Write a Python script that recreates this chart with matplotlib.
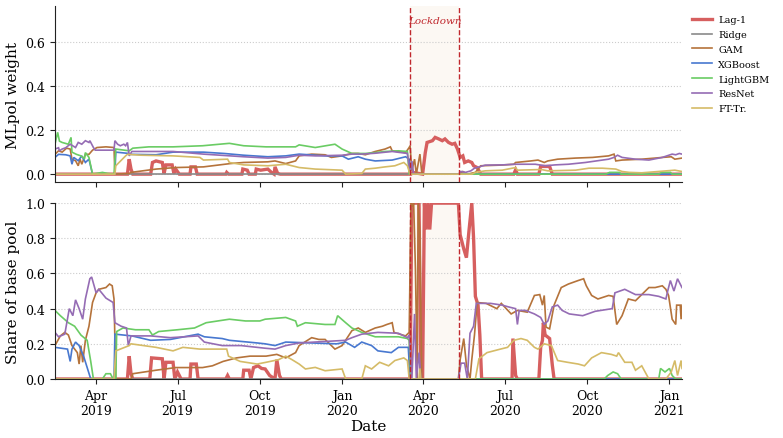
import numpy as np
import pandas as pd
import matplotlib
matplotlib.use('Agg')
import matplotlib.pyplot as plt
import matplotlib.dates as mdates

plt.rcParams['font.family'] = 'DejaVu Serif'

# ---------------- data: MLpol weight (top panel) ----------------
top_lag1_dates = ['2019-02-14', '2019-05-06', '2019-05-08', '2019-05-10', '2019-05-12', '2019-06-01',
                  '2019-06-03', '2019-06-07', '2019-06-14', '2019-06-16', '2019-06-18', '2019-06-25',
                  '2019-06-27', '2019-06-29', '2019-07-03', '2019-07-15', '2019-07-16', '2019-07-21',
                  '2019-07-23', '2019-08-24', '2019-08-25', '2019-08-27', '2019-09-11', '2019-09-12',
                  '2019-09-17', '2019-09-19', '2019-09-26', '2019-09-27', '2019-10-02', '2019-10-10',
                  '2019-10-14', '2019-10-17', '2019-10-18', '2019-10-21', '2019-10-24', '2020-03-18',
                  '2020-03-20', '2020-03-31', '2020-04-03', '2020-04-05', '2020-04-11', '2020-04-14',
                  '2020-04-18', '2020-04-22', '2020-04-25', '2020-04-29', '2020-05-03', '2020-05-06',
                  '2020-05-09', '2020-05-12', '2020-05-15', '2020-05-17', '2020-05-21', '2020-05-25',
                  '2020-05-27', '2020-05-31', '2020-06-04', '2020-07-11', '2020-07-13', '2020-07-15',
                  '2020-08-08', '2020-08-10', '2020-08-20', '2020-08-23', '2021-01-15']
top_lag1 = [0, 0, 0.068, 0.023, 0, 0,
            0.053, 0.06, 0.053, 0.003, 0.042, 0.042,
            0.003, 0.023, 0, 0, 0.033, 0.033,
            0, 0, 0.008, 0, 0, 0.023,
            0.018, 0, 0, 0.023, 0.018, 0.023,
            0.008, 0, 0.033, 0.003, 0, 0,
            0.008, 0, 0.098, 0.144, 0.152, 0.167,
            0.16, 0.152, 0.16, 0.144, 0.136, 0.14,
            0.114, 0.076, 0.083, 0.053, 0.06, 0.053,
            0.038, 0.03, 0, 0, 0.02, 0,
            0, 0.035, 0.035, 0, 0]

top_gam_dates = ['2019-02-14', '2019-02-18', '2019-02-22', '2019-02-27', '2019-03-03', '2019-03-05',
                 '2019-03-09', '2019-03-12', '2019-03-14', '2019-03-16', '2019-03-20', '2019-03-24',
                 '2019-03-28', '2019-04-02', '2019-04-12', '2019-04-21', '2019-04-22', '2019-05-08',
                 '2019-05-10', '2019-06-07', '2019-06-29', '2019-07-30', '2019-08-29', '2019-09-13',
                 '2019-10-10', '2019-10-18', '2019-10-30', '2019-11-10', '2019-11-14', '2019-11-28',
                 '2019-12-13', '2019-12-20', '2020-01-01', '2020-01-12', '2020-01-19', '2020-01-27',
                 '2020-02-07', '2020-02-18', '2020-02-24', '2020-02-26', '2020-03-12', '2020-03-16',
                 '2020-03-17', '2020-03-19', '2020-03-22', '2020-03-24', '2020-03-28', '2020-03-30',
                 '2020-04-02', '2020-05-12', '2020-05-15', '2020-05-20', '2020-05-29', '2020-06-04',
                 '2020-06-26', '2020-07-11', '2020-07-13', '2020-07-30', '2020-08-07', '2020-08-14',
                 '2020-08-18', '2020-08-29', '2020-09-18', '2020-10-07', '2020-10-25', '2020-10-31',
                 '2020-11-02', '2020-11-09', '2020-12-01', '2020-12-16', '2020-12-24', '2021-01-03',
                 '2021-01-07', '2021-01-15']
top_gam = [0.09, 0.106, 0.10, 0.118, 0.114, 0.068,
           0.061, 0.038, 0.068, 0.045, 0.09, 0.09,
           0.109, 0.121, 0.124, 0.121, 0.0, 0.003,
           0.008, 0.023, 0.03, 0.033, 0.048, 0.053,
           0.056, 0.06, 0.048, 0.06, 0.083, 0.091,
           0.088, 0.076, 0.083, 0.094, 0.094, 0.088,
           0.103, 0.114, 0.124, 0.106, 0.098, 0.121,
           0.129, 0.015, 0.068, 0.0, 0.091, 0.008,
           0.0, 0.0, 0.012, 0.0, 0.008, 0.038,
           0.041, 0.045, 0.053, 0.06, 0.064, 0.053,
           0.06, 0.068, 0.073, 0.076, 0.083, 0.091,
           0.06, 0.064, 0.068, 0.073, 0.076, 0.079,
           0.068, 0.073]

top_xgb_dates = ['2019-02-14', '2019-02-18', '2019-02-26', '2019-03-03', '2019-03-05', '2019-03-07',
                 '2019-03-12', '2019-03-16', '2019-03-20', '2019-03-24', '2019-03-28', '2019-04-22',
                 '2019-04-23', '2019-05-08', '2019-05-10', '2019-06-07', '2019-06-26', '2019-07-30',
                 '2019-08-22', '2019-09-13', '2019-10-10', '2019-10-30', '2019-11-14', '2019-12-13',
                 '2020-01-01', '2020-01-08', '2020-01-19', '2020-01-27', '2020-02-07', '2020-02-26',
                 '2020-03-12', '2020-03-16', '2020-03-17', '2021-01-15']
top_xgb = [0.076, 0.09, 0.088, 0.083, 0.045, 0.076,
           0.061, 0.083, 0.053, 0.068, 0.0, 0.0,
           0.10, 0.094, 0.09, 0.088, 0.10, 0.10,
           0.094, 0.086, 0.079, 0.083, 0.091, 0.083,
           0.083, 0.068, 0.079, 0.068, 0.06, 0.064,
           0.079, 0.068, 0.0, 0.0]

top_lgbm_dates = ['2019-02-14', '2019-02-17', '2019-02-19', '2019-02-22', '2019-03-01', '2019-03-04',
                  '2019-03-05', '2019-03-10', '2019-03-15', '2019-03-19', '2019-03-20', '2019-03-24',
                  '2019-03-28', '2019-04-08', '2019-04-14', '2019-04-21', '2019-04-23', '2019-05-08',
                  '2019-05-12', '2019-05-30', '2019-06-26', '2019-07-29', '2019-08-28', '2019-09-13',
                  '2019-10-08', '2019-11-10', '2019-11-14', '2019-12-02', '2019-12-24', '2020-01-01',
                  '2020-01-12', '2020-01-27', '2020-02-07', '2020-02-18', '2020-03-04', '2020-03-14',
                  '2020-03-16', '2020-10-22', '2020-10-26', '2020-11-06', '2020-11-08', '2020-12-20',
                  '2020-12-23', '2021-01-02', '2021-01-04', '2021-01-15']
top_lgbm = [0.136, 0.19, 0.15, 0.144, 0.136, 0.167,
            0.10, 0.09, 0.083, 0.07, 0.098, 0.076,
            0.0, 0.008, 0.003, 0.0, 0.114, 0.106,
            0.118, 0.124, 0.124, 0.129, 0.14, 0.129,
            0.124, 0.124, 0.133, 0.121, 0.136, 0.114,
            0.094, 0.094, 0.098, 0.103, 0.106, 0.103,
            0.0, 0.0, 0.008, 0.008, 0.0, 0.0,
            0.008, 0.008, 0.0, 0.0]

top_resnet_dates = ['2019-02-14', '2019-02-18', '2019-02-19', '2019-02-22', '2019-02-26', '2019-03-03',
                    '2019-03-09', '2019-03-12', '2019-03-16', '2019-03-20', '2019-03-24', '2019-03-25',
                    '2019-03-29', '2019-03-31', '2019-04-21', '2019-04-22', '2019-04-25', '2019-04-28',
                    '2019-05-02', '2019-05-04', '2019-05-06', '2019-05-08', '2019-05-11', '2019-05-30',
                    '2019-06-26', '2019-07-30', '2019-08-29', '2019-09-13', '2019-10-10', '2019-10-30',
                    '2019-11-14', '2019-12-02', '2020-01-01', '2020-01-12', '2020-01-23', '2020-02-07',
                    '2020-02-26', '2020-03-14', '2020-03-17', '2020-03-19', '2020-03-21', '2020-05-10',
                    '2020-05-13', '2020-05-18', '2020-05-24', '2020-05-28', '2020-06-09', '2020-06-28',
                    '2020-07-13', '2020-08-04', '2020-08-15', '2020-08-26', '2020-09-10', '2020-09-29',
                    '2020-10-25', '2020-10-31', '2020-11-04', '2020-11-09', '2020-11-24', '2020-12-09',
                    '2020-12-24', '2021-01-04', '2021-01-08', '2021-01-12', '2021-01-15']
top_resnet = [0.114, 0.12, 0.106, 0.114, 0.12, 0.136,
              0.121, 0.144, 0.136, 0.152, 0.144, 0.152,
              0.121, 0.109, 0.109, 0.152, 0.136, 0.129,
              0.136, 0.129, 0.144, 0.083, 0.103, 0.103,
              0.103, 0.091, 0.083, 0.079, 0.073, 0.076,
              0.086, 0.083, 0.086, 0.091, 0.091, 0.095,
              0.103, 0.094, 0.0, 0.06, 0.0, 0.0,
              0.012, 0.008, 0.015, 0.027, 0.041, 0.042,
              0.045, 0.045, 0.038, 0.042, 0.045, 0.053,
              0.068, 0.076, 0.086, 0.076, 0.068, 0.064,
              0.076, 0.091, 0.088, 0.094, 0.091]

top_fttr_dates = ['2019-02-14', '2019-04-22', '2019-04-23', '2019-05-04', '2019-05-06', '2019-05-22',
                  '2019-06-26', '2019-07-26', '2019-07-30', '2019-08-26', '2019-08-28', '2019-09-13',
                  '2019-10-10', '2019-10-30', '2019-11-14', '2019-12-02', '2020-01-01', '2020-01-05',
                  '2020-01-23', '2020-01-27', '2020-02-07', '2020-02-18', '2020-02-29', '2020-03-10',
                  '2020-03-14', '2020-03-17', '2020-05-25', '2020-05-29', '2020-06-09', '2020-06-28',
                  '2020-07-13', '2020-07-15', '2020-08-11', '2020-08-18', '2020-09-18', '2020-10-03',
                  '2020-10-18', '2020-11-02', '2020-11-09', '2020-11-17', '2020-12-01', '2021-01-07',
                  '2021-01-15']
top_fttr = [0.0, 0.0, 0.038, 0.083, 0.09, 0.086,
            0.083, 0.076, 0.064, 0.068, 0.053, 0.042,
            0.038, 0.045, 0.03, 0.023, 0.018, 0.0,
            0.003, 0.023, 0.027, 0.033, 0.038, 0.053,
            0.038, 0.0, 0.0, 0.008, 0.015, 0.018,
            0.03, 0.018, 0.021, 0.015, 0.018, 0.027,
            0.027, 0.023, 0.012, 0.008, 0.006, 0.018,
            0.012]

ridge_dates = ['2019-02-14', '2021-01-15']
ridge = [0.0, 0.0]

# ---------------- data: share of base pool (bottom panel) ----------------
bot_lag1_dates = ['2019-02-14', '2019-05-06', '2019-05-08', '2019-05-10', '2019-05-12', '2019-05-31',
                  '2019-06-02', '2019-06-14', '2019-06-16', '2019-06-18', '2019-06-26', '2019-06-28',
                  '2019-07-01', '2019-07-05', '2019-07-15', '2019-07-16', '2019-07-22', '2019-07-24',
                  '2019-08-24', '2019-08-26', '2019-08-28', '2019-09-12', '2019-09-13', '2019-09-19',
                  '2019-09-21', '2019-09-24', '2019-09-29', '2019-10-03', '2019-10-07', '2019-10-12',
                  '2019-10-18', '2019-10-20', '2019-10-23', '2019-10-25', '2020-03-17', '2020-03-19',
                  '2020-03-27', '2020-03-29', '2020-03-31', '2020-04-02', '2020-04-04', '2020-04-06',
                  '2020-04-08', '2020-04-10', '2020-05-10', '2020-05-12', '2020-05-16', '2020-05-19',
                  '2020-05-22', '2020-05-25', '2020-05-27', '2020-05-29', '2020-06-01', '2020-06-03',
                  '2020-06-05', '2020-07-09', '2020-07-10', '2020-07-13', '2020-07-15', '2020-08-08',
                  '2020-08-10', '2020-08-12', '2020-08-13', '2020-08-15', '2020-08-20', '2020-08-23',
                  '2020-08-25', '2021-01-15']
bot_lag1 = [0, 0, 0.13, 0.03, 0, 0,
            0.12, 0.115, 0, 0.095, 0.095, 0,
            0.04, 0, 0, 0.085, 0.085, 0,
            0, 0.02, 0, 0, 0.05, 0.05,
            0, 0.065, 0.075, 0.06, 0.057, 0.02,
            0, 0.11, 0.02, 0, 0, 1.0,
            1.0, 0.0, 0.0, 1.0, 0.85, 1.0,
            0.85, 1.0, 1.0, 0.82, 0.74, 0.69,
            0.85, 1.0, 0.80, 0.47, 0.42, 0.25,
            0, 0, 0.23, 0.02, 0, 0,
            0.18, 0.22, 0.32, 0.25, 0.23, 0.08,
            0, 0]

bot_gam_dates = ['2019-02-14', '2019-02-20', '2019-02-25', '2019-03-01', '2019-03-05', '2019-03-11',
                 '2019-03-13', '2019-03-15', '2019-03-17', '2019-03-20', '2019-03-24', '2019-03-28',
                 '2019-04-01', '2019-04-04', '2019-04-12', '2019-04-16', '2019-04-19', '2019-04-21',
                 '2019-04-23', '2019-05-10', '2019-05-12', '2019-06-07', '2019-06-29', '2019-07-29',
                 '2019-08-09', '2019-08-21', '2019-09-05', '2019-09-20', '2019-10-08', '2019-10-20',
                 '2019-10-30', '2019-11-10', '2019-11-14', '2019-11-28', '2019-12-06', '2019-12-13',
                 '2019-12-24', '2020-01-01', '2020-01-12', '2020-01-19', '2020-01-27', '2020-02-07',
                 '2020-02-15', '2020-02-20', '2020-02-26', '2020-02-28', '2020-03-12', '2020-03-16',
                 '2020-03-18', '2020-03-20', '2020-03-21', '2020-03-23', '2020-03-25', '2020-03-26',
                 '2020-03-28', '2020-03-30', '2020-05-10', '2020-05-12', '2020-05-16', '2020-05-19',
                 '2020-05-23', '2020-05-25', '2020-05-28', '2020-05-31', '2020-06-10', '2020-06-22',
                 '2020-06-27', '2020-07-08', '2020-07-15', '2020-07-26', '2020-08-03', '2020-08-09',
                 '2020-08-12', '2020-08-14', '2020-08-16', '2020-08-20', '2020-08-25', '2020-09-02',
                 '2020-09-10', '2020-09-21', '2020-09-27', '2020-09-30', '2020-10-06', '2020-10-13',
                 '2020-10-25', '2020-10-30', '2020-11-03', '2020-11-09', '2020-11-16', '2020-11-24',
                 '2020-12-01', '2020-12-09', '2020-12-16', '2020-12-24', '2020-12-28', '2020-12-31',
                 '2021-01-04', '2021-01-08', '2021-01-09', '2021-01-13', '2021-01-14', '2021-01-15']
bot_gam = [0.19, 0.245, 0.265, 0.25, 0.19, 0.15,
           0.085, 0.19, 0.095, 0.22, 0.30, 0.435,
           0.49, 0.51, 0.52, 0.54, 0.53, 0.455,
           0.0, 0.0, 0.03, 0.05, 0.065, 0.065,
           0.075, 0.10, 0.12, 0.13, 0.13, 0.14,
           0.12, 0.15, 0.19, 0.235, 0.225, 0.225,
           0.17, 0.19, 0.275, 0.29, 0.265, 0.29,
           0.30, 0.31, 0.32, 0.265, 0.245, 0.265,
           1.0, 0.98, 1.0, 0.625, 0.0, 1.0,
           0.83, 0.0, 0.0, 0.11, 0.23, 0.08,
           0.0, 0.11, 0.25, 0.435, 0.43, 0.40,
           0.43, 0.37, 0.39, 0.38, 0.475, 0.48,
           0.42, 0.475, 0.295, 0.285, 0.42, 0.52,
           0.54, 0.56, 0.57, 0.53, 0.475, 0.455,
           0.475, 0.47, 0.31, 0.36, 0.455, 0.445,
           0.48, 0.52, 0.52, 0.53, 0.51, 0.475,
           0.34, 0.31, 0.42, 0.42, 0.34, 0.42]

bot_xgb_dates = ['2019-02-14', '2019-02-28', '2019-03-03', '2019-03-05', '2019-03-09', '2019-03-13',
                 '2019-03-18', '2019-03-26', '2019-04-21', '2019-04-22', '2019-05-11', '2019-06-01',
                 '2019-06-23', '2019-07-24', '2019-07-31', '2019-08-20', '2019-08-28', '2019-09-28',
                 '2019-10-07', '2019-10-18', '2019-10-30', '2019-12-26', '2020-01-05', '2020-01-15',
                 '2020-01-23', '2020-02-03', '2020-02-10', '2020-02-25', '2020-03-04', '2020-03-15',
                 '2020-03-17', '2021-01-15']
bot_xgb = [0.18, 0.17, 0.10, 0.17, 0.21, 0.19,
           0.13, 0.0, 0.0, 0.255, 0.245, 0.22,
           0.225, 0.255, 0.24, 0.23, 0.22, 0.205,
           0.20, 0.19, 0.21, 0.20, 0.21, 0.18,
           0.21, 0.19, 0.16, 0.15, 0.18, 0.18,
           0.0, 0.0]

bot_lgbm_dates = ['2019-02-14', '2019-02-20', '2019-03-01', '2019-03-08', '2019-03-15', '2019-03-22',
                  '2019-03-26', '2019-03-29', '2019-04-08', '2019-04-12', '2019-04-17', '2019-04-20',
                  '2019-04-23', '2019-04-24', '2019-05-01', '2019-05-15', '2019-05-30', '2019-06-03',
                  '2019-06-10', '2019-07-01', '2019-07-20', '2019-08-02', '2019-08-28', '2019-09-15',
                  '2019-10-01', '2019-10-07', '2019-10-30', '2019-11-10', '2019-11-12', '2019-11-21',
                  '2019-12-13', '2019-12-24', '2019-12-27', '2020-01-05', '2020-01-12', '2020-01-23',
                  '2020-02-07', '2020-03-04', '2020-03-14', '2020-03-16', '2020-03-18', '2020-10-20',
                  '2020-10-24', '2020-10-30', '2020-11-04', '2020-11-08', '2020-12-20', '2020-12-22',
                  '2020-12-27', '2021-01-01', '2021-01-04', '2021-01-08', '2021-01-15']
bot_lgbm = [0.39, 0.36, 0.32, 0.30, 0.25, 0.22,
            0.10, 0.0, 0.0, 0.03, 0.03, 0.0,
            0.0, 0.27, 0.29, 0.28, 0.28, 0.25,
            0.27, 0.28, 0.29, 0.32, 0.34, 0.33,
            0.33, 0.34, 0.35, 0.33, 0.30, 0.32,
            0.31, 0.31, 0.36, 0.32, 0.29, 0.265,
            0.24, 0.24, 0.23, 0.22, 0.0, 0.0,
            0.02, 0.04, 0.03, 0.0, 0.0, 0.06,
            0.04, 0.06, 0.02, 0.0, 0.0]

bot_resnet_dates = ['2019-02-14', '2019-02-18', '2019-02-25', '2019-03-02', '2019-03-06', '2019-03-09',
                    '2019-03-13', '2019-03-17', '2019-03-20', '2019-03-25', '2019-03-27', '2019-04-01',
                    '2019-04-04', '2019-04-12', '2019-04-20', '2019-04-22', '2019-04-29', '2019-05-05',
                    '2019-05-07', '2019-05-10', '2019-06-01', '2019-06-23', '2019-07-24', '2019-07-31',
                    '2019-08-20', '2019-09-10', '2019-10-07', '2019-10-18', '2019-10-30', '2019-11-14',
                    '2020-01-05', '2020-01-12', '2020-01-23', '2020-02-10', '2020-03-04', '2020-03-14',
                    '2020-03-16', '2020-03-19', '2020-03-22', '2020-03-24', '2020-03-27', '2020-03-29',
                    '2020-05-10', '2020-05-13', '2020-05-17', '2020-05-20', '2020-05-23', '2020-05-27',
                    '2020-05-30', '2020-06-15', '2020-06-28', '2020-07-05', '2020-07-13', '2020-07-15',
                    '2020-07-17', '2020-07-24', '2020-08-03', '2020-08-10', '2020-08-14', '2020-08-18',
                    '2020-08-23', '2020-08-29', '2020-09-03', '2020-09-11', '2020-09-26', '2020-10-10',
                    '2020-10-29', '2020-11-01', '2020-11-12', '2020-11-24', '2020-12-09', '2020-12-20',
                    '2020-12-28', '2020-12-30', '2021-01-02', '2021-01-06', '2021-01-10', '2021-01-15']
bot_resnet = [0.265, 0.24, 0.255, 0.40, 0.36, 0.45,
              0.40, 0.34, 0.455, 0.57, 0.58, 0.49,
              0.51, 0.46, 0.435, 0.32, 0.30, 0.29,
              0.19, 0.245, 0.245, 0.235, 0.245, 0.21,
              0.19, 0.19, 0.175, 0.17, 0.19, 0.205,
              0.22, 0.235, 0.255, 0.265, 0.26, 0.235,
              0.25, 0.0, 0.37, 0.0, 0.15, 0.0,
              0.0, 0.09, 0.09, 0.0, 0.26, 0.30,
              0.43, 0.43, 0.42, 0.41, 0.40, 0.31,
              0.39, 0.39, 0.37, 0.35, 0.31, 0.33,
              0.41, 0.42, 0.39, 0.37, 0.36, 0.385,
              0.40, 0.49, 0.51, 0.48, 0.48, 0.47,
              0.455, 0.50, 0.56, 0.50, 0.57, 0.52]

bot_fttr_dates = ['2019-02-14', '2019-04-21', '2019-04-23', '2019-05-08', '2019-05-10', '2019-06-07',
                  '2019-06-26', '2019-07-07', '2019-07-26', '2019-08-25', '2019-08-27', '2019-09-09',
                  '2019-09-28', '2019-10-08', '2019-10-22', '2019-10-30', '2019-11-06', '2019-11-14',
                  '2019-11-21', '2019-12-02', '2019-12-13', '2020-01-01', '2020-01-05', '2020-01-23',
                  '2020-01-27', '2020-02-03', '2020-02-12', '2020-02-22', '2020-02-29', '2020-03-10',
                  '2020-03-14', '2020-03-16', '2020-03-27', '2020-03-28', '2020-03-29', '2020-05-29',
                  '2020-06-02', '2020-06-11', '2020-06-26', '2020-07-04', '2020-07-11', '2020-07-19',
                  '2020-07-26', '2020-08-03', '2020-08-07', '2020-08-14', '2020-08-22', '2020-08-29',
                  '2020-09-09', '2020-09-21', '2020-09-28', '2020-10-06', '2020-10-17', '2020-10-28',
                  '2020-11-03', '2020-11-05', '2020-11-12', '2020-11-20', '2020-11-24', '2020-12-01',
                  '2020-12-09', '2020-12-28', '2021-01-03', '2021-01-07', '2021-01-10', '2021-01-14',
                  '2021-01-15']
bot_fttr = [0.0, 0.0, 0.16, 0.19, 0.20, 0.18,
            0.16, 0.18, 0.17, 0.17, 0.13, 0.10,
            0.085, 0.095, 0.11, 0.13, 0.11, 0.085,
            0.057, 0.066, 0.047, 0.057, 0.0, 0.0,
            0.075, 0.057, 0.095, 0.075, 0.105, 0.12,
            0.105, 0.0, 0.0, 0.06, 0.0, 0.0,
            0.115, 0.15, 0.17, 0.18, 0.22, 0.23,
            0.22, 0.18, 0.17, 0.20, 0.19, 0.105,
            0.095, 0.085, 0.075, 0.12, 0.15, 0.14,
            0.13, 0.15, 0.095, 0.095, 0.05, 0.075,
            0.0, 0.0, 0.04, 0.105, 0.02, 0.105,
            0.06]

lockdown = ('2020-03-17', '2020-05-11')
x_range = ('2019-02-14', '2021-01-15')

# ---------------- styling ----------------
models = ['Lag-1', 'Ridge', 'GAM', 'XGBoost', 'LightGBM', 'ResNet', 'FT-Tr.']
colors = {
    'Lag-1': '#d65f5f',
    'Ridge': '#8a8a8a',
    'GAM': '#b5733b',
    'XGBoost': '#4878d0',
    'LightGBM': '#6acc64',
    'ResNet': '#956cb4',
    'FT-Tr.': '#d5bb67',
}
widths = {m: 1.2 for m in models}
widths['Lag-1'] = 2.4

top_series = {
    'Lag-1': (top_lag1_dates, top_lag1),
    'Ridge': (ridge_dates, ridge),
    'GAM': (top_gam_dates, top_gam),
    'XGBoost': (top_xgb_dates, top_xgb),
    'LightGBM': (top_lgbm_dates, top_lgbm),
    'ResNet': (top_resnet_dates, top_resnet),
    'FT-Tr.': (top_fttr_dates, top_fttr),
}
bot_series = {
    'Lag-1': (bot_lag1_dates, bot_lag1),
    'Ridge': (ridge_dates, ridge),
    'GAM': (bot_gam_dates, bot_gam),
    'XGBoost': (bot_xgb_dates, bot_xgb),
    'LightGBM': (bot_lgbm_dates, bot_lgbm),
    'ResNet': (bot_resnet_dates, bot_resnet),
    'FT-Tr.': (bot_fttr_dates, bot_fttr),
}

fig = plt.figure(figsize=(7.83, 4.39), dpi=100)
ax1 = fig.add_axes([0.0702, 0.583, 0.8008, 0.401])
ax2 = fig.add_axes([0.0702, 0.1344, 0.8008, 0.4006], sharex=ax1)

ld0, ld1 = pd.to_datetime(lockdown[0]), pd.to_datetime(lockdown[1])

for ax, series in [(ax1, top_series), (ax2, bot_series)]:
    ax.axvspan(ld0, ld1, color='#fbf6ee', alpha=0.7, lw=0, zorder=0)
    for m in models:
        d, v = series[m]
        ax.plot(pd.to_datetime(d), v, color=colors[m], lw=widths[m], label=m,
                solid_joinstyle='miter', zorder=2)
    for x in (ld0, ld1):
        ax.axvline(x, color='#c0282d', ls='--', lw=1.0, zorder=3)
    ax.grid(axis='y', ls=':', color='#cccccc', lw=0.8)
    ax.set_axisbelow(True)
    for s in ['top', 'right']:
        ax.spines[s].set_visible(False)
    for s in ['left', 'bottom']:
        ax.spines[s].set_color('#222222')
    ax.tick_params(labelsize=9, color='#222222', length=3.5)

ax1.set_ylim(-0.036, 0.764)
ax1.set_yticks([0.0, 0.2, 0.4, 0.6])
ax1.set_ylabel('MLpol weight', fontsize=11)
ax1.tick_params(axis='x', labelbottom=False)
ax1.text(ld0 + (ld1 - ld0) / 2, 0.70, 'Lockdown', color='#c0282d', fontsize=7.5,
         style='italic', ha='center', va='center')

ax2.set_ylim(0, 1.0)
ax2.set_yticks([0.0, 0.2, 0.4, 0.6, 0.8, 1.0])
ax2.set_ylabel('Share of base pool', fontsize=11)
ax2.set_xlabel('Date', fontsize=11, labelpad=2)
ax2.set_xlim(pd.to_datetime(x_range[0]), pd.to_datetime(x_range[1]))
ax2.xaxis.set_major_locator(mdates.MonthLocator(bymonth=[1, 4, 7, 10]))
ax2.xaxis.set_major_formatter(mdates.DateFormatter('%b\n%Y'))
for lbl in ax2.get_xticklabels():
    lbl.set_ha('center')

ax1.legend(loc='upper left', bbox_to_anchor=(1.01, 0.97), frameon=False, fontsize=7,
           handlelength=2.0, labelspacing=0.6, handletextpad=0.7, borderaxespad=0.2,
           borderpad=0.2)

fig.savefig('out.png', dpi=100)
